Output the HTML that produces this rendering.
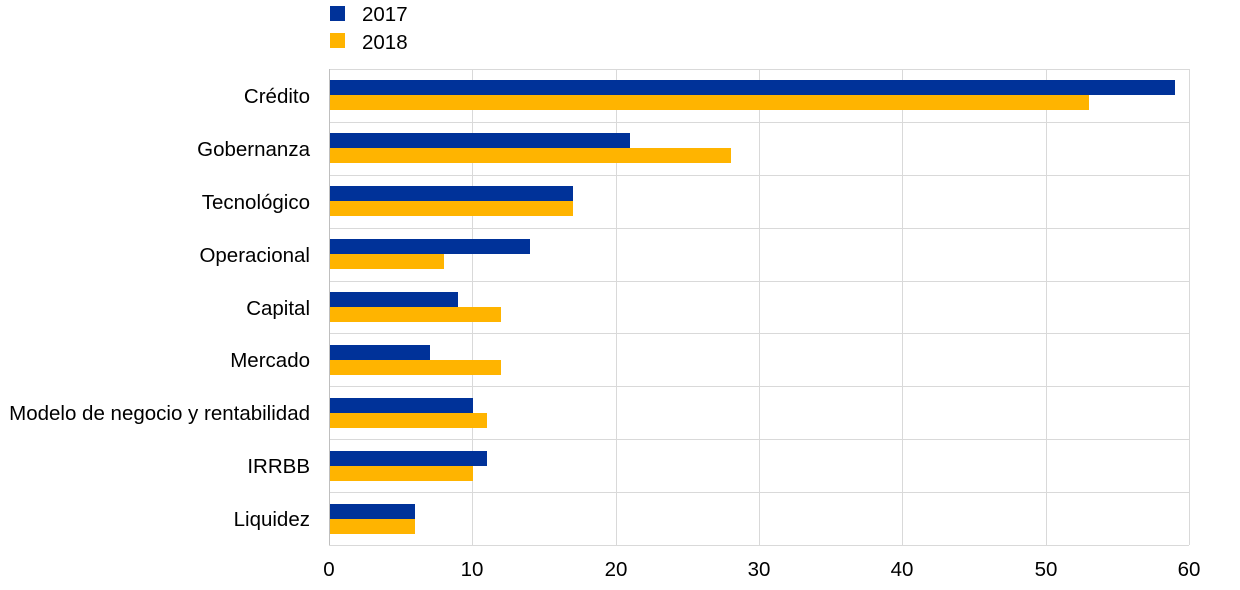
<!DOCTYPE html>
<html><head><meta charset="utf-8"><style>
body{margin:0;background:#fff}
svg{display:block;font-family:"Liberation Sans",Arial,sans-serif}
</style></head><body>
<svg width="1240" height="590" xmlns="http://www.w3.org/2000/svg">
<rect x="330" y="6" width="15" height="15" fill="#003299"/>
<text x="362" y="21" font-size="20.5" fill="#000">2017</text>
<rect x="330" y="33" width="15" height="15" fill="#FFB400"/>
<text x="362" y="49" font-size="20.5" fill="#000">2018</text>
<g stroke="#d9d9d9" stroke-width="1">
<line x1="472.5" y1="69" x2="472.5" y2="545"/>
<line x1="616.5" y1="69" x2="616.5" y2="545"/>
<line x1="759.5" y1="69" x2="759.5" y2="545"/>
<line x1="902.5" y1="69" x2="902.5" y2="545"/>
<line x1="1046.5" y1="69" x2="1046.5" y2="545"/>
<line x1="1189.5" y1="69" x2="1189.5" y2="545"/>
<line x1="329" y1="69.5" x2="1189" y2="69.5"/>
<line x1="329" y1="122.5" x2="1189" y2="122.5"/>
<line x1="329" y1="175.5" x2="1189" y2="175.5"/>
<line x1="329" y1="228.5" x2="1189" y2="228.5"/>
<line x1="329" y1="281.5" x2="1189" y2="281.5"/>
<line x1="329" y1="333.5" x2="1189" y2="333.5"/>
<line x1="329" y1="386.5" x2="1189" y2="386.5"/>
<line x1="329" y1="439.5" x2="1189" y2="439.5"/>
<line x1="329" y1="492.5" x2="1189" y2="492.5"/>
<line x1="329" y1="545.5" x2="1189" y2="545.5"/>
</g>
<line x1="329.5" y1="69" x2="329.5" y2="545" stroke="#bfbfbf"/>
<g>
<rect x="330" y="80" width="845" height="15" fill="#003299"/><rect x="330" y="95" width="759" height="15" fill="#FFB400"/>
<rect x="330" y="133" width="300" height="15" fill="#003299"/><rect x="330" y="148" width="401" height="15" fill="#FFB400"/>
<rect x="330" y="186" width="243" height="15" fill="#003299"/><rect x="330" y="201" width="243" height="15" fill="#FFB400"/>
<rect x="330" y="239" width="200" height="15" fill="#003299"/><rect x="330" y="254" width="114" height="15" fill="#FFB400"/>
<rect x="330" y="292" width="128" height="15" fill="#003299"/><rect x="330" y="307" width="171" height="15" fill="#FFB400"/>
<rect x="330" y="345" width="100" height="15" fill="#003299"/><rect x="330" y="360" width="171" height="15" fill="#FFB400"/>
<rect x="330" y="398" width="143" height="15" fill="#003299"/><rect x="330" y="413" width="157" height="15" fill="#FFB400"/>
<rect x="330" y="451" width="157" height="15" fill="#003299"/><rect x="330" y="466" width="143" height="15" fill="#FFB400"/>
<rect x="330" y="504" width="85" height="15" fill="#003299"/><rect x="330" y="519" width="85" height="15" fill="#FFB400"/>
</g>
<g font-size="20.5" fill="#000" text-anchor="end">
<text x="310" y="103">Crédito</text>
<text x="310" y="156">Gobernanza</text>
<text x="310" y="209">Tecnológico</text>
<text x="310" y="262">Operacional</text>
<text x="310" y="315">Capital</text>
<text x="310" y="367">Mercado</text>
<text x="310" y="420">Modelo de negocio y rentabilidad</text>
<text x="310" y="473">IRRBB</text>
<text x="310" y="526">Liquidez</text>
</g>
<g font-size="20.5" fill="#000" text-anchor="middle">
<text x="329" y="576">0</text>
<text x="472" y="576">10</text>
<text x="616" y="576">20</text>
<text x="759" y="576">30</text>
<text x="902" y="576">40</text>
<text x="1046" y="576">50</text>
<text x="1189" y="576">60</text>
</g>
</svg>
</body></html>
